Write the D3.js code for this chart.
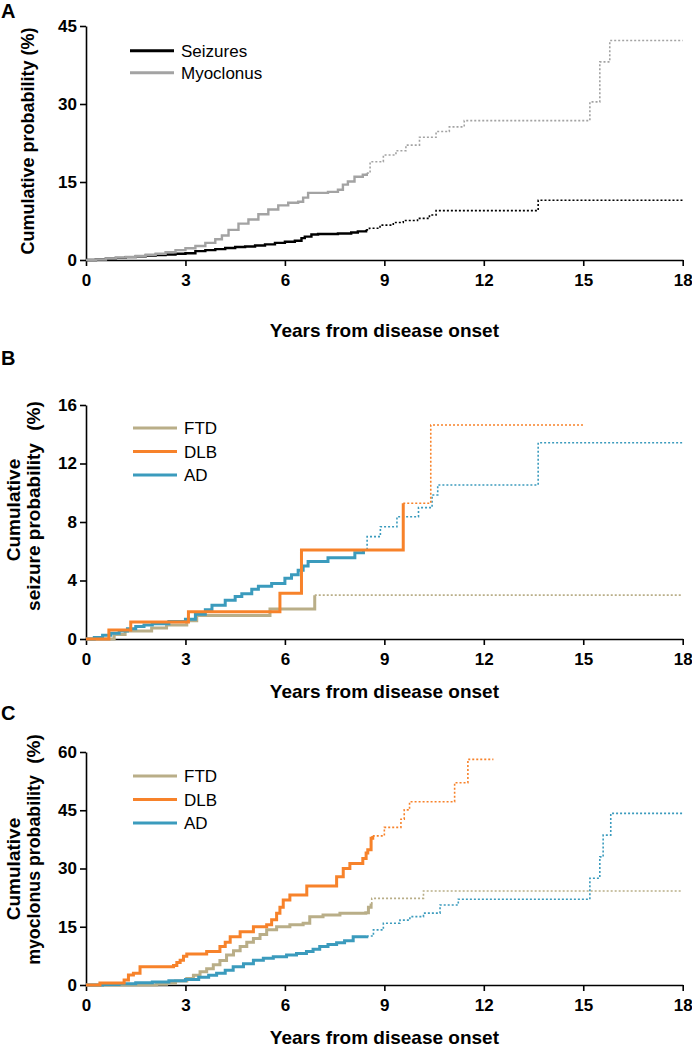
<!DOCTYPE html>
<html><head><meta charset="utf-8">
<script src="https://cdn.jsdelivr.net/npm/d3@7"></script>
<style>
body{margin:0;background:#fff;}
text{font-family:Arial,"Liberation Sans",Helvetica,sans-serif;}
</style></head>
<body><svg id="c" width="692" height="1050"></svg>
<script>
// ---------- DATA ----------
const xTicks = [0, 3, 6, 9, 12, 15, 18];
const yTicksA = [0, 15, 30, 45];
const yTicksB = [0, 4, 8, 12, 16];
const yTicksC = [0, 15, 30, 45, 60];
const xTitle = "Years from disease onset";

// Panel A: [years, cumulative %]
const seizuresSolid = [[0,0],[0.3,0.1],[0.6,0.25],[0.9,0.4],[1.2,0.55],[1.5,0.7],[1.8,0.85],[2.1,0.95],[2.4,1.05],[2.7,1.2],[3.0,1.3],[3.3,1.7],[3.6,1.9],[3.9,2.1],[4.2,2.3],[4.5,2.5],[4.8,2.6],[5.1,2.8],[5.4,3.0],[5.7,3.3],[6.0,3.5],[6.3,3.7],[6.5,4.2],[6.6,4.5],[6.8,4.9],[7.0,5.0],[7.6,5.1],[8.0,5.3],[8.2,5.5],[8.45,5.8]];
const seizuresDotted = [[8.45,5.8],[8.55,6.1],[8.87,6.7],[9.27,7.2],[9.57,7.6],[10.0,8.0],[10.36,8.65],[10.56,9.5],[13.64,11.5],[18,11.5]];
const myoclonusSolid = [[0,0],[0.3,0.1],[0.6,0.3],[0.9,0.45],[1.2,0.6],[1.5,0.8],[1.8,1.0],[2.1,1.2],[2.4,1.5],[2.7,1.9],[3.0,2.25],[3.3,2.7],[3.6,3.3],[3.9,4.0],[4.1,4.7],[4.3,5.8],[4.6,7.0],[4.9,7.8],[5.2,8.8],[5.5,9.7],[5.8,10.5],[6.1,11.0],[6.4,11.2],[6.55,12.0],[6.7,12.9],[7.3,13.1],[7.6,13.5],[7.75,14.5],[7.9,15.1],[8.1,16.0],[8.35,16.4],[8.47,16.7]];
const myoclonusDotted = [[8.47,16.7],[8.57,18.9],[8.97,20.2],[9.35,21.0],[9.65,22.1],[10.06,23.6],[10.56,24.7],[10.96,25.6],[11.41,26.8],[15.2,30.4],[15.5,38.1],[15.8,42.2],[18,42.2]];

// Panel B: seizures by diagnosis
const ftdSeizSolid = [[0,0],[0.85,0.3],[1.18,0.55],[1.98,0.75],[2.43,0.95],[3.04,1.25],[3.34,1.6],[5.55,2.05],[6.9,3.0]];
const ftdSeizDotted = [[6.9,3.0],[18,3.0]];
const dlbSeizSolid = [[0,0],[0.69,0.62],[1.35,1.16],[3.09,1.87],[5.85,3.12],[6.5,6.08],[9.57,9.28]];
const dlbSeizDotted = [[9.57,9.28],[10.4,14.63],[15.05,14.63]];
const adSeizSolid = [[0,0],[0.25,0.1],[0.5,0.25],[0.75,0.4],[1.0,0.55],[1.25,0.7],[1.5,0.85],[1.75,0.95],[2.0,1.05],[2.5,1.2],[3.0,1.35],[3.3,1.7],[3.6,2.0],[3.8,2.3],[4.2,2.65],[4.5,2.9],[4.7,3.1],[5.0,3.4],[5.2,3.6],[5.6,3.8],[6.0,4.15],[6.2,4.4],[6.4,4.7],[6.55,5.0],[6.7,5.3],[7.3,5.55],[8.11,5.9],[8.37,6.08]];
const adSeizDotted = [[8.37,6.08],[8.48,7.0],[8.88,7.68],[9.38,8.36],[10.03,8.98],[10.44,9.85],[10.61,10.53],[13.64,13.42],[18,13.42]];

// Panel C: myoclonus by diagnosis
const ftdMyoSolid = [[0,0],[2.13,0.2],[2.43,0.5],[2.7,1.0],[3.04,1.7],[3.24,2.5],[3.44,3.4],[3.64,4.2],[3.84,5.2],[4.04,6.3],[4.24,7.7],[4.45,8.8],[4.65,9.9],[4.85,11.0],[5.05,12.0],[5.25,13.0],[5.45,14.2],[5.75,15.0],[6.15,15.5],[6.55,15.9],[6.75,17.6],[7.15,18.0],[7.66,18.5],[8.44,18.6],[8.52,20.0],[8.6,21.0]];
const ftdMyoDotted = [[8.6,21.0],[8.62,22.3],[10.18,24.2],[18,24.2]];
const dlbMyoSolid = [[0,0],[0.42,0.5],[1.15,1.3],[1.28,2.6],[1.43,3.0],[1.63,4.7],[2.64,5.0],[2.74,5.8],[2.84,6.4],[2.94,7.4],[3.04,8.0],[3.64,8.6],[4.04,9.9],[4.2,11.0],[4.35,12.4],[4.65,13.7],[5.05,15.0],[5.45,15.5],[5.6,16.8],[5.75,18.5],[5.85,20.0],[5.95,21.9],[6.15,23.2],[6.66,25.5],[7.56,27.9],[7.76,30.0],[7.96,31.3],[8.35,32.6],[8.45,34.0],[8.5,34.8],[8.6,37.8],[8.65,38.4]];
const dlbMyoDotted = [[8.65,38.4],[9.0,40.6],[9.5,42.7],[9.6,45.1],[9.76,47.2],[11.12,52.1],[11.52,58.1],[12.29,58.1]];
const adMyoSolid = [[0,0],[0.5,0.1],[1.0,0.3],[1.5,0.55],[2.0,0.8],[2.5,1.1],[3.0,1.4],[3.4,2.0],[3.7,2.5],[3.94,3.0],[4.2,3.8],[4.44,4.7],[4.75,5.5],[5.05,6.4],[5.35,6.9],[5.65,7.3],[6.05,7.7],[6.35,8.1],[6.65,8.6],[6.85,9.2],[7.05,9.9],[7.3,10.4],[7.56,10.9],[7.8,11.4],[8.06,12.4],[8.47,12.6]];
const adMyoDotted = [[8.47,12.6],[8.67,14.2],[8.97,15.9],[9.47,16.7],[9.77,17.6],[10.18,18.5],[10.68,20.6],[11.23,22.1],[15.2,27.5],[15.5,33.0],[15.6,38.6],[15.83,44.2],[18,44.2]];

const legendA = ["Seizures", "Myoclonus"];
const legendBC = ["FTD", "DLB", "AD"];

// ---------- STYLE ----------
const COL = {Seizures:"#000000", Myoclonus:"#a3a3a3", FTD:"#b9ae88", DLB:"#f7822a", AD:"#3b9bbd"};

const svg = d3.select("#c");
const x = d3.scaleLinear().domain([0,18]).range([86,682.7]);

function panel(opts){
  const y = d3.scaleLinear().domain([0, opts.ymax]).range([opts.y0, opts.y1]);
  const g = svg.append("g");
  const xa = g.append("g").attr("transform",`translate(0,${opts.y0})`)
    .call(d3.axisBottom(x).tickValues(xTicks).tickSize(6).tickSizeOuter(0).tickPadding(8));
  const ya = g.append("g").attr("transform",`translate(86,0)`)
    .call(d3.axisLeft(y).tickValues(opts.yTicks).tickSize(6).tickSizeOuter(0).tickPadding(3));
  [xa,ya].forEach(a=>{
    a.selectAll("path,line").attr("stroke","#000").attr("stroke-width",1.6);
    a.selectAll("text").attr("font-size",17).attr("font-weight","bold").attr("fill","#000")
      .style("font-family","Arial,'Liberation Sans',sans-serif");
  });
  g.append("text").attr("x",384.4).attr("y",opts.xTitleY).attr("text-anchor","middle")
    .attr("font-size",19).attr("font-weight","bold").text(xTitle);
  g.append("text").attr("x",1).attr("y",opts.letterY).attr("font-size",20).attr("font-weight","bold").text(opts.letter);

  const line = d3.line().x(d=>x(d[0])).y(d=>y(d[1])).curve(d3.curveStepAfter);
  opts.series.forEach(s=>{
    g.append("path").attr("d",line(s.dotted)).attr("fill","none").attr("stroke",COL[s.name])
      .attr("stroke-width",1.6).attr("stroke-dasharray","2,2");
    g.append("path").attr("d",line(s.solid)).attr("fill","none").attr("stroke",COL[s.name])
      .attr("stroke-width",opts.lw).attr("stroke-linejoin","miter");
  });
  opts.legend.forEach((name,i)=>{
    const ly = opts.legY + i*opts.legStep;
    g.append("line").attr("x1",opts.legX).attr("x2",opts.legX+44).attr("y1",ly).attr("y2",ly)
      .attr("stroke",COL[name]).attr("stroke-width",3);
    g.append("text").attr("x",opts.legX+51).attr("y",ly+6).attr("font-size",17).text(name);
  });
  return {g,y};
}

const A = panel({letter:"A", letterY:18, ymax:45, y0:260, y1:26, yTicks:yTicksA, xTitleY:337, lw:2.4,
  legend:legendA, legX:130, legY:50.7, legStep:22,
  series:[{name:"Seizures",solid:seizuresSolid,dotted:seizuresDotted},{name:"Myoclonus",solid:myoclonusSolid,dotted:myoclonusDotted}]});
A.g.append("text").attr("transform","translate(34,141) rotate(-90)").attr("text-anchor","middle")
  .attr("font-size",18).attr("font-weight","bold").text("Cumulative probability (%)");

const B = panel({letter:"B", letterY:365, ymax:16, y0:639, y1:405, yTicks:yTicksB, xTitleY:698, lw:3,
  legend:legendBC, legX:133, legY:428, legStep:23.5,
  series:[{name:"FTD",solid:ftdSeizSolid,dotted:ftdSeizDotted},{name:"AD",solid:adSeizSolid,dotted:adSeizDotted},{name:"DLB",solid:dlbSeizSolid,dotted:dlbSeizDotted}]});
B.g.append("text").attr("transform","translate(20,510) rotate(-90)").attr("text-anchor","middle")
  .attr("font-size",19).attr("font-weight","bold").text("Cumulative");
B.g.append("text").attr("transform","translate(40,527) rotate(-90)").attr("text-anchor","middle")
  .attr("font-size",19).attr("font-weight","bold").text("seizure probability");
B.g.append("text").attr("transform","translate(40,416) rotate(-90)").attr("text-anchor","middle")
  .attr("font-size",19).attr("font-weight","bold").text("(%)");

const C = panel({letter:"C", letterY:720, ymax:60, y0:985, y1:752, yTicks:yTicksC, xTitleY:1044, lw:3,
  legend:legendBC, legX:133, legY:776, legStep:23.5,
  series:[{name:"FTD",solid:ftdMyoSolid,dotted:ftdMyoDotted},{name:"AD",solid:adMyoSolid,dotted:adMyoDotted},{name:"DLB",solid:dlbMyoSolid,dotted:dlbMyoDotted}]});
C.g.append("text").attr("transform","translate(20,869) rotate(-90)").attr("text-anchor","middle")
  .attr("font-size",19).attr("font-weight","bold").text("Cumulative");
C.g.append("text").attr("transform","translate(40,870) rotate(-90)").attr("text-anchor","middle")
  .attr("font-size",17.8).attr("font-weight","bold").text("myoclonus probability");
C.g.append("text").attr("transform","translate(40,749) rotate(-90)").attr("text-anchor","middle")
  .attr("font-size",19).attr("font-weight","bold").text("(%)");
</script></body></html>
